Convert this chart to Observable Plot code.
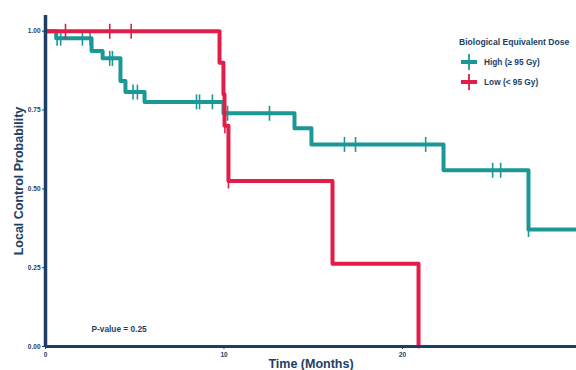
<!DOCTYPE html>
<html>
<head>
<meta charset="utf-8">
<script src="https://cdn.jsdelivr.net/npm/d3@7"></script>
<script src="https://cdn.jsdelivr.net/npm/@observablehq/plot@0.6"></script>
<style>
  body { margin: 0; background: #fff; font-family: "Liberation Sans", Arial, sans-serif; }
  #wrap { position: relative; width: 576px; height: 370px; overflow: hidden; }
  #legend { position: absolute; left: 459px; top: 37px; color: #1d3f66; font-weight: bold; }
  #legend .title { font-size: 8.6px; margin-bottom: 5px; }
  #legend .row { display: flex; align-items: center; font-size: 8.3px; height: 20px; }
  #legend svg { margin-right: 7px; margin-left: 2px; }
</style>
</head>
<body>
<div id="wrap">
  <div id="legend"></div>
</div>
<script>
// ---- data ----
const groups = ["High (≥ 95 Gy)", "Low (< 95 Gy)"];
const groupColors = ["#1a9896", "#e11d48"];

// High dose: step times (months) and survival after each step
const highTimes = [0, 0.6, 2.58, 3.2, 4.2, 4.48, 5.55, 9.97, 13.95, 14.9, 22.3, 27.06, 29.75];
const highSurv  = [1.0, 0.978, 0.937, 0.914, 0.842, 0.807, 0.776, 0.74, 0.692, 0.641, 0.559, 0.371, 0.371];
// High dose censor marks
const highCensorTimes = [0.65, 0.85, 2.07, 2.5, 3.6, 3.75, 4.9, 5.15, 8.46, 8.63, 9.35, 10.2, 12.55, 16.75, 17.37, 21.3, 25.05, 25.5, 27.06];
const highCensorSurv  = [0.978, 0.978, 0.978, 0.978, 0.914, 0.914, 0.807, 0.807, 0.776, 0.776, 0.776, 0.74, 0.74, 0.641, 0.641, 0.641, 0.559, 0.559, 0.371];

// Low dose
const lowTimes = [0, 9.75, 9.97, 10.03, 10.25, 16.08, 20.9];
const lowSurv  = [1.0, 0.9, 0.8, 0.7, 0.525, 0.2625, 0.0];
const lowCensorTimes = [1.12, 3.6, 4.8, 10.05, 10.25];
const lowCensorSurv  = [1.0, 1.0, 1.0, 0.7, 0.525];

const yTicks = [0, 0.25, 0.5, 0.75, 1.0];
const xTicks = [0, 10, 20];
const pValueText = "P-value = 0.25";
const legendTitle = "Biological Equivalent Dose";
const xTitle = "Time (Months)";
const yTitle = "Local Control Probability";

// ---- build tables ----
const steps = [
  ...highTimes.map((t, i) => ({group: groups[0], time: t, surv: highSurv[i]})),
  ...lowTimes.map((t, i) => ({group: groups[1], time: t, surv: lowSurv[i]}))
];
const censors = [
  ...highCensorTimes.map((t, i) => ({group: groups[0], time: t, surv: highCensorSurv[i]})),
  ...lowCensorTimes.map((t, i) => ({group: groups[1], time: t, surv: lowCensorSurv[i]}))
];

const navy = "#1d3f66";
const vbar = { draw(ctx) { ctx.moveTo(0, -7.5); ctx.lineTo(0, 7.5); } };

const chart = Plot.plot({
  width: 576,
  height: 370,
  marginLeft: 45,
  marginRight: 0,
  marginTop: 15,
  marginBottom: 24,
  style: { fontFamily: "Liberation Sans, Arial, sans-serif", background: "transparent", color: navy },
  x: { domain: [0, 29.75] },
  y: { domain: [0, 1.05] },
  color: { domain: groups, range: groupColors },
  marks: [
    Plot.axisY({ ticks: yTicks, tickFormat: d3.format(".2f"), tickSize: 3, tickPadding: 2, fontSize: 6.5, fontWeight: "bold", label: null }),
    Plot.axisX({ ticks: xTicks, tickSize: 3, tickPadding: 3, fontSize: 6.5, fontWeight: "bold", label: null }),
    Plot.line(steps.filter(d => d.group === groups[0]), { x: "time", y: "surv", stroke: "group", curve: "step-after", strokeWidth: 4 }),
    Plot.dot(censors.filter(d => d.group === groups[0]), { x: "time", y: "surv", stroke: "group", symbol: vbar, strokeWidth: 1.6, r: 5 }),
    Plot.line(steps.filter(d => d.group === groups[1]), { x: "time", y: "surv", stroke: "group", curve: "step-after", strokeWidth: 4 }),
    Plot.dot(censors.filter(d => d.group === groups[1]), { x: "time", y: "surv", stroke: "group", symbol: vbar, strokeWidth: 1.6, r: 5 }),
    Plot.ruleX([0], { stroke: navy, strokeWidth: 3.5 }),
    Plot.ruleY([0], { stroke: navy, strokeWidth: 3 }),
    Plot.text([pValueText], { frameAnchor: "bottom-left", dx: 46, dy: -15, fontSize: 8.3, fontWeight: "bold", fill: navy, textAnchor: "start" }),
    Plot.text([xTitle], { frameAnchor: "bottom", dy: 21, fontSize: 12.5, fontWeight: "bold", fill: navy }),
    Plot.text([yTitle], { frameAnchor: "left", dx: -27, rotate: -90, textAnchor: "middle", fontSize: 12.5, fontWeight: "bold", fill: navy })
  ]
});
chart.style.overflow = "visible";
document.getElementById("wrap").prepend(chart);

// legend
const lg = document.getElementById("legend");
const t = document.createElement("div");
t.className = "title";
t.textContent = legendTitle;
lg.appendChild(t);
groups.forEach((g, i) => {
  const row = document.createElement("div");
  row.className = "row";
  row.innerHTML = `<svg width="16" height="16"><line x1="0" x2="16" y1="8" y2="8" stroke="${groupColors[i]}" stroke-width="4"/><line x1="8" x2="8" y1="0" y2="16" stroke="${groupColors[i]}" stroke-width="1.8"/></svg><span></span>`;
  row.querySelector("span").textContent = g;
  lg.appendChild(row);
});
</script>
</body>
</html>
